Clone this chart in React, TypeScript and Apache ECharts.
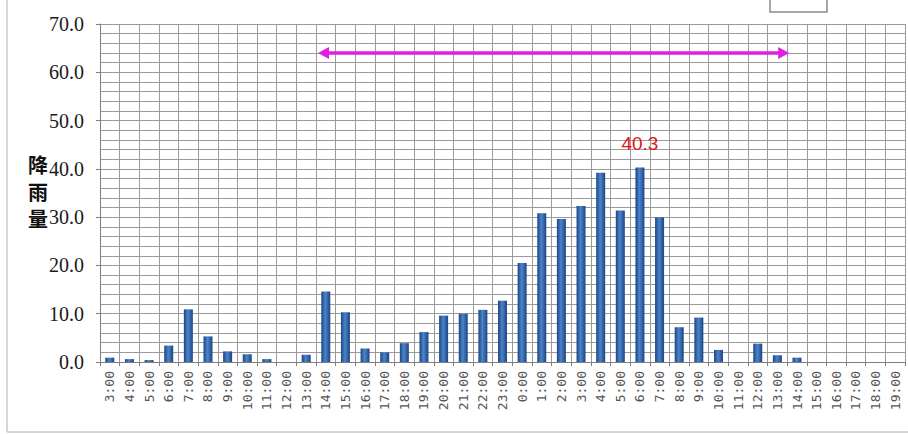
import React, { useEffect, useRef } from "react";
import * as echarts from "echarts";

// Hourly rainfall, 3:00 through 19:00 of the following day
const hours: string[] = [
  "3:00", "4:00", "5:00", "6:00", "7:00", "8:00", "9:00", "10:00", "11:00", "12:00",
  "13:00", "14:00", "15:00", "16:00", "17:00", "18:00", "19:00", "20:00", "21:00", "22:00",
  "23:00", "0:00", "1:00", "2:00", "3:00", "4:00", "5:00", "6:00", "7:00", "8:00",
  "9:00", "10:00", "11:00", "12:00", "13:00", "14:00", "15:00", "16:00", "17:00", "18:00",
  "19:00",
];

const rainfall: number[] = [
  0.9, 0.6, 0.4, 3.4, 10.9, 5.3, 2.2, 1.6, 0.6, 0,
  1.5, 14.6, 10.3, 2.8, 2.0, 3.9, 6.2, 9.6, 10.0, 10.8,
  12.7, 20.5, 30.8, 29.6, 32.3, 39.2, 31.4, 40.3, 30.0, 7.2,
  9.2, 2.5, 0, 3.8, 1.4, 0.9, 0, 0, 0, 0,
  0,
];

// Index of the hour whose value is written above its bar
const peakIndex = 27;

// Heavy-rain period marked by the double arrow (category indices, left edges)
const periodStart = 11;
const periodEnd = 35;
const periodArrowLevel = 64;

const yTicks = { min: 0, max: 70, interval: 10 };

const yTitleChars: string[] = ["降", "雨", "量"];

export default function App() {
  const ref = useRef<HTMLDivElement>(null);

  useEffect(() => {
    if (!ref.current) return;
    const chart = echarts.init(ref.current, undefined, { renderer: "svg" });

    const barColor = new echarts.graphic.LinearGradient(0, 0, 1, 0, [
      { offset: 0, color: "#1a4585" },
      { offset: 0.45, color: "#4d83c9" },
      { offset: 1, color: "#1a4585" },
    ]);

    const gridColor = "#9a9a9a";

    chart.setOption({
      animation: false,
      backgroundColor: "#ffffff",
      grid: { left: 100, right: 3, top: 24, bottom: 72, containLabel: false },
      xAxis: {
        type: "category",
        data: hours,
        boundaryGap: true,
        axisLine: { show: true, lineStyle: { color: "#7f7f7f", width: 1 } },
        axisTick: { show: true, alignWithLabel: false, length: 4, lineStyle: { color: "#7f7f7f" } },
        splitLine: { show: true, interval: 0, lineStyle: { color: gridColor, width: 1 } },
        axisLabel: {
          interval: 0,
          rotate: 90,
          margin: 9,
          fontFamily: "DejaVu Sans Mono",
          fontSize: 13,
          color: "#555555",
        },
      },
      yAxis: {
        type: "value",
        min: yTicks.min,
        max: yTicks.max,
        interval: yTicks.interval,
        axisLine: { show: true, lineStyle: { color: "#7f7f7f" } },
        axisTick: { show: true, length: 4, lineStyle: { color: "#7f7f7f" } },
        splitLine: { show: true, lineStyle: { color: gridColor, width: 1 } },
        minorTick: { show: false, splitNumber: 5 },
        minorSplitLine: { show: true, lineStyle: { color: gridColor, width: 1 } },
        axisLabel: {
          margin: 16,
          fontFamily: "Liberation Serif",
          fontSize: 20,
          color: "#1a1a1a",
          formatter: (v: number) => v.toFixed(1),
        },
      },
      series: [
        {
          type: "bar",
          barWidth: 9,
          data: rainfall.map((v, i) =>
            i === peakIndex
              ? {
                  value: v,
                  label: {
                    show: true,
                    position: "top",
                    distance: 14,
                    formatter: (p: any) => String(p.value),
                    fontFamily: "Liberation Sans",
                    fontSize: 19,
                    color: "#e0141c",
                  },
                }
              : v
          ),
          itemStyle: { color: barColor },
        },
      ],
    });

    // Double-headed arrow across the heavy-rain period, positioned on the axes
    const band =
      (chart.convertToPixel({ xAxisIndex: 0 }, 1) as number) -
      (chart.convertToPixel({ xAxisIndex: 0 }, 0) as number);
    const x1 = (chart.convertToPixel({ xAxisIndex: 0 }, periodStart) as number) - band / 2 + 2;
    const x2 = (chart.convertToPixel({ xAxisIndex: 0 }, periodEnd) as number) - band / 2 + 2;
    const y = chart.convertToPixel({ yAxisIndex: 0 }, periodArrowLevel) as number;
    const arrowColor = "#e020e0";
    const headLen = 11;
    const headHalf = 6;

    chart.setOption({
      graphic: [
        {
          type: "line",
          shape: { x1: x1 + headLen - 2, y1: y, x2: x2 - headLen + 2, y2: y },
          style: { stroke: arrowColor, lineWidth: 3.5 },
          z: 10,
        },
        {
          type: "polygon",
          shape: { points: [[x1, y], [x1 + headLen, y - headHalf], [x1 + headLen, y + headHalf]] },
          style: { fill: arrowColor },
          z: 10,
        },
        {
          type: "polygon",
          shape: { points: [[x2, y], [x2 - headLen, y - headHalf], [x2 - headLen, y + headHalf]] },
          style: { fill: arrowColor },
          z: 10,
        },
        // vertical axis title, one character per row
        ...yTitleChars.map((ch, i) => ({
          type: "text",
          x: 28,
          y: 154 + i * 27,
          style: {
            text: ch,
            font: "bold 20px 'Noto Sans CJK SC'",
            fill: "#111111",
          },
        })),
        // legend frame peeking in at the top edge
        {
          type: "rect",
          shape: { x: 770, y: -4, width: 57, height: 16 },
          style: { fill: "#ffffff", stroke: "#8a8a8a", lineWidth: 1.5 },
          z: 10,
        },
        // outer frame of the figure
        {
          type: "rect",
          shape: { x: 7, y: -4, width: 920, height: 436 },
          style: { fill: "none", stroke: "#b0b0b0", lineWidth: 1 },
          z: 10,
        },
      ],
    });

    return () => chart.dispose();
  }, []);

  return <div ref={ref} style={{ width: 908, height: 434, position: "absolute", left: 0, top: 0 }} />;
}
